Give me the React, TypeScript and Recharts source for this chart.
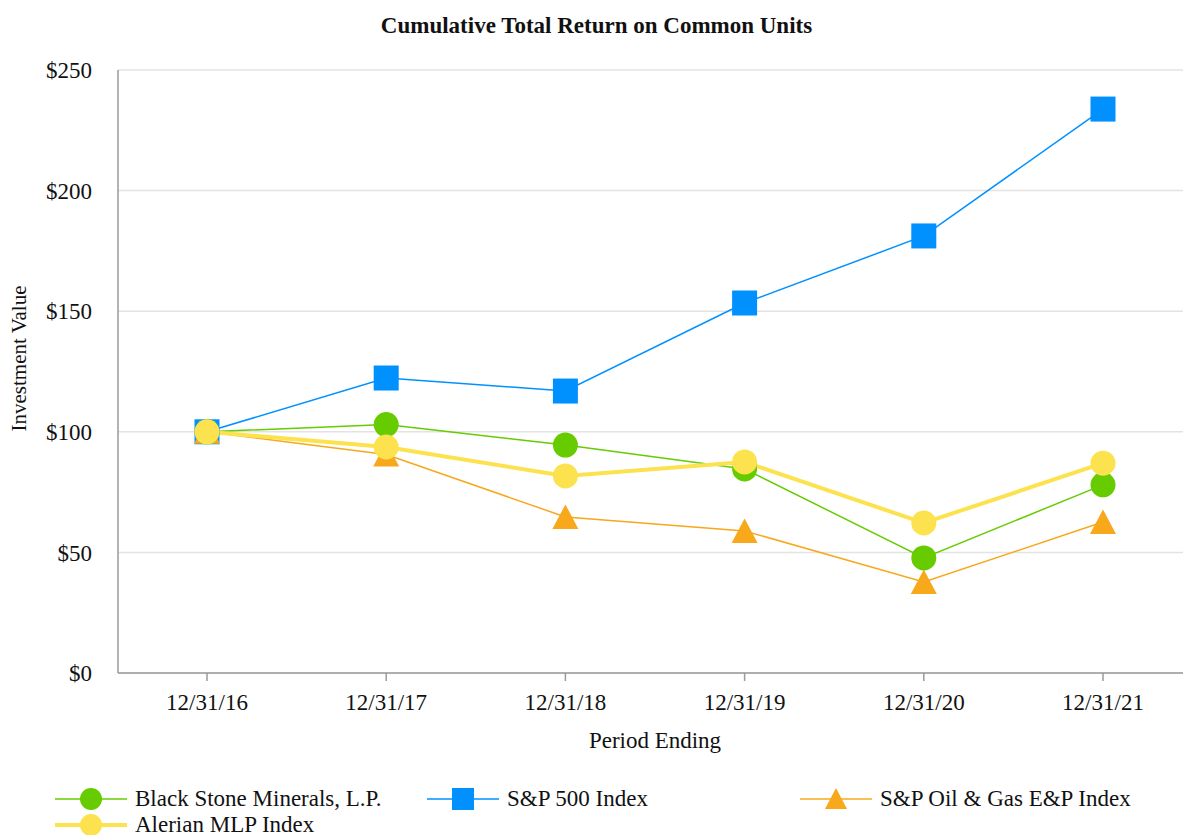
import { LineChart, Line, XAxis, YAxis, CartesianGrid } from 'recharts';

const periods = ['12/31/16', '12/31/17', '12/31/18', '12/31/19', '12/31/20', '12/31/21'];
const blackStone = [100, 103, 94.5, 84.6, 47.7, 78];
const sp500 = [100, 122.3, 116.9, 153.4, 181.2, 233.8];
const oilGas = [100, 90.6, 64.7, 58.9, 37.7, 62.6];
const alerian = [100, 93.7, 81.7, 87.5, 62.2, 87];
const yTicks = [0, 50, 100, 150, 200, 250];

const data = periods.map((period, i) => ({
  period,
  blackStone: blackStone[i],
  sp500: sp500[i],
  oilGas: oilGas[i],
  alerian: alerian[i],
}));

const GREEN = '#66cc00';
const BLUE = '#0091ff';
const ORANGE = '#f7a81b';
const YELLOW = '#fde24f';
const FONT = '"Liberation Serif", "Times New Roman", serif';

type Shape = 'circle' | 'square' | 'triangle';

function marker(shape: Shape, color: string, cx: number, cy: number, key?: string | number) {
  if (shape === 'circle') return <circle key={key} cx={cx} cy={cy} r={12.5} fill={color} />;
  if (shape === 'square') return <rect key={key} x={cx - 12.5} y={cy - 12.5} width={25} height={25} fill={color} />;
  return <polygon key={key} points={`${cx},${cy - 12.5} ${cx + 13},${cy + 12} ${cx - 13},${cy + 12}`} fill={color} />;
}

const makeDot = (shape: Shape, color: string) => (props: any) =>
  marker(shape, color, props.cx, props.cy, props.index);

// legend order as in the original, separate from the drawing order of the lines
const legendItems = [
  { name: 'Black Stone Minerals, L.P.', color: GREEN, shape: 'circle' as Shape, x: 55, y: 19, w: 1.5 },
  { name: 'S&P 500 Index', color: BLUE, shape: 'square' as Shape, x: 427, y: 19, w: 1.5 },
  { name: 'S&P Oil & Gas E&P Index', color: ORANGE, shape: 'triangle' as Shape, x: 800, y: 19, w: 1.5 },
  { name: 'Alerian MLP Index', color: YELLOW, shape: 'circle' as Shape, x: 55, y: 45, w: 4 },
];

function ChartLegend() {
  return (
    <svg width={1183} height={60} style={{ position: 'absolute', left: 0, top: 780, display: 'block' }}>
      {legendItems.map((it) => (
        <g key={it.name}>
          <line x1={it.x} x2={it.x + 72} y1={it.y} y2={it.y} stroke={it.color} strokeWidth={it.w} />
          {it.shape === 'circle'
            ? <circle cx={it.x + 36} cy={it.y} r={11} fill={it.color} />
            : it.shape === 'square'
              ? <rect x={it.x + 25} y={it.y - 11} width={22} height={22} fill={it.color} />
              : <polygon points={`${it.x + 36},${it.y - 11} ${it.x + 47},${it.y + 10} ${it.x + 25},${it.y + 10}`} fill={it.color} />}
          <text x={it.x + 80} y={it.y + 7} fontFamily={FONT} fontSize={23} fill="#111">{it.name}</text>
        </g>
      ))}
    </svg>
  );
}

export default function App() {
  return (
    <div style={{ position: 'fixed', left: 0, top: 0, width: 1183, height: 835, overflow: 'hidden', background: '#fff' }}>
      <div
        style={{
          position: 'absolute', left: 0, top: 13, width: 1193, textAlign: 'center',
          fontFamily: FONT, fontWeight: 'bold', fontSize: 23, color: '#111',
        }}
      >
        Cumulative Total Return on Common Units
      </div>
      <LineChart width={1192} height={835} data={data} margin={{ top: 70, right: 0, bottom: 0, left: 0 }}>
        <CartesianGrid vertical={false} stroke="#e3e3e3" strokeWidth={1.5} />
        <XAxis
          dataKey="period"
          padding={{ left: 89, right: 89 }}
          height={162}
          stroke="#9a9a9a"
          strokeWidth={1.5}
          tickSize={8}
          tickMargin={13}
          tick={{ fill: '#111', fontSize: 23, fontFamily: FONT }}
          label={{ value: 'Period Ending', position: 'insideBottom', offset: 87, fill: '#111', fontSize: 23, fontFamily: FONT }}
        />
        <YAxis
          domain={[0, 250]}
          ticks={yTicks}
          width={118}
          stroke="#9a9a9a"
          strokeWidth={1.5}
          tickLine={false}
          tickSize={0}
          tickMargin={26}
          tickFormatter={(v: number) => `$${v}`}
          tick={{ fill: '#111', fontSize: 23, fontFamily: FONT }}
          label={{ value: 'Investment Value', angle: -90, position: 'insideLeft', dx: 14, dy: -13, fill: '#111', fontSize: 21, fontFamily: FONT, style: { textAnchor: 'middle' } }}
        />
        <Line dataKey="sp500" name="S&P 500 Index" stroke={BLUE} strokeWidth={1.5} dot={makeDot('square', BLUE)} activeDot={false} isAnimationActive={false} />
        <Line dataKey="oilGas" name="S&P Oil & Gas E&P Index" stroke={ORANGE} strokeWidth={1.5} dot={makeDot('triangle', ORANGE)} activeDot={false} isAnimationActive={false} />
        <Line dataKey="blackStone" name="Black Stone Minerals, L.P." stroke={GREEN} strokeWidth={1.5} dot={makeDot('circle', GREEN)} activeDot={false} isAnimationActive={false} />
        <Line dataKey="alerian" name="Alerian MLP Index" stroke={YELLOW} strokeWidth={4} dot={makeDot('circle', YELLOW)} activeDot={false} isAnimationActive={false} />
      </LineChart>
      <ChartLegend />
    </div>
  );
}
